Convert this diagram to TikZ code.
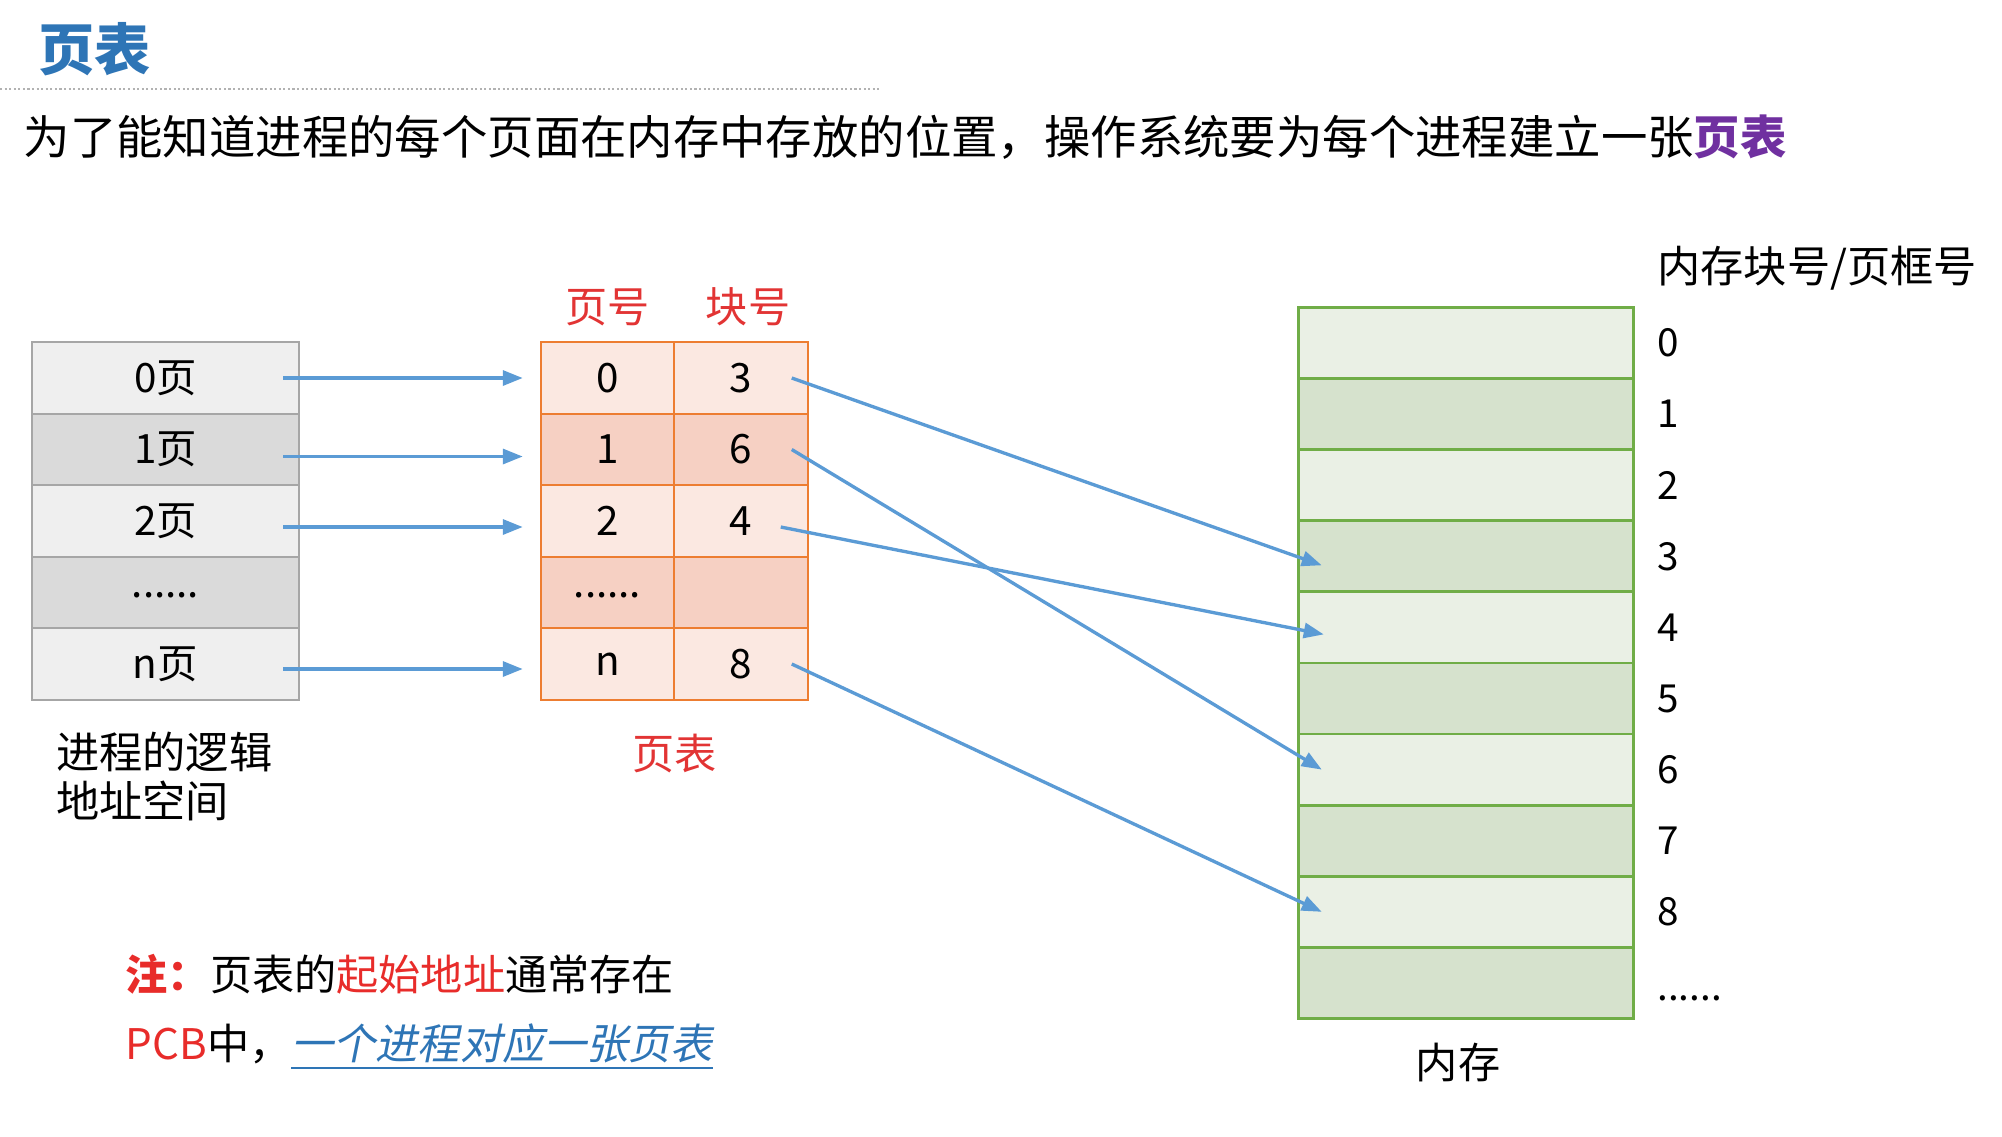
\documentclass[tikz,border=0pt]{standalone}
\usepackage{fontspec}
\setmainfont{Noto Sans CJK SC}
\newfontfamily\slantfont[FakeSlant=0.2]{Noto Sans CJK SC}
\usepackage{tikz}
\usetikzlibrary{arrows.meta, positioning}
\usepackage{xcolor}
\definecolor{titleblue}{RGB}{46,117,182}
\definecolor{keypurple}{RGB}{112,48,160}
\definecolor{hdrred}{RGB}{226,52,52}
\definecolor{notered}{RGB}{232,44,42}
\definecolor{linkblue}{RGB}{46,117,182}
\definecolor{arrblue}{RGB}{91,155,213}
\definecolor{pgline}{RGB}{166,166,166}
\definecolor{pglight}{RGB}{239,239,239}
\definecolor{pgdark}{RGB}{218,218,218}
\definecolor{tabline}{RGB}{237,125,49}
\definecolor{tablight}{RGB}{251,232,225}
\definecolor{tabdark}{RGB}{246,208,195}
\definecolor{memline}{RGB}{112,173,71}
\definecolor{memlight}{RGB}{234,240,229}
\definecolor{memdark}{RGB}{214,226,205}

\begin{document}
\begin{tikzpicture}[
    pg/.style={rectangle, draw=pgline, line width=0.7pt, minimum width=2.67cm, minimum height=0.715cm, outer sep=0pt, font=\fontsize{11.5}{13}\selectfont},
    tc/.style={rectangle, draw=tabline, line width=0.7pt, minimum width=1.335cm, minimum height=0.715cm, outer sep=0pt, font=\fontsize{11.5}{13}\selectfont},
    mem/.style={rectangle, draw=memline, line width=0.8pt, minimum width=3.345cm, minimum height=0.711cm, outer sep=0pt},
    num/.style={inner sep=1pt, font=\fontsize{11}{13}\selectfont},
    lbl/.style={inner sep=1pt, font=\fontsize{12}{14}\selectfont},
    dots/.style={text height=0.15cm, text depth=0.05cm},
    arr/.style={-{Triangle[length=2mm, width=1.5mm]}, line width=0.95pt, color=arrblue},
    node distance=0pt
]
\useasboundingbox (0,0) rectangle (20.02,-11.36);

\node[anchor=west, inner sep=0pt, text=titleblue, font=\fontsize{16}{18}\selectfont\bfseries] (title) at (0.38,-0.49) {页表};
\draw[gray!60, line width=0.6pt, dash pattern=on 0.6pt off 0.7pt] (0,-0.89) -- (8.81,-0.89);
\node[anchor=west, inner sep=0pt, font=\fontsize{13.2}{15}\selectfont] (intro) at (0.23,-1.37) {为了能知道进程的每个页面在内存中存放的位置，操作系统要为每个进程建立一张\textcolor{keypurple}{\bfseries 页表}};

\node[pg, fill=pglight] (p0) at (1.655,-3.78) {0页};
\node[pg, fill=pgdark, below=of p0] (p1) {1页};
\node[pg, fill=pglight, below=of p1] (p2) {2页};
\node[pg, dots, fill=pgdark, below=of p2] (p3) {......};
\node[pg, fill=pglight, below=of p3] (p4) {n页};
\node[lbl, align=left, below right=0.28cm and 0.2cm of p4.south west, font=\fontsize{12.3}{14}\selectfont] (lname) {进程的逻辑\\地址空间};

\node[tc, fill=tablight] (t0) at (6.075,-3.78) {0};
\node[tc, fill=tablight, right=of t0] (b0) {3};
\node[tc, fill=tabdark, below=of t0] (t1) {1};
\node[tc, fill=tabdark, right=of t1] (b1) {6};
\node[tc, fill=tablight, below=of t1] (t2) {2};
\node[tc, fill=tablight, right=of t2] (b2) {4};
\node[tc, dots, fill=tabdark, below=of t2] (t3) {......};
\node[tc, fill=tabdark, right=of t3] (b3) {};
\node[tc, fill=tablight, below=of t3] (t4) {n};
\node[tc, fill=tablight, right=of t4] (b4) {8};
\node[lbl, text=hdrred, above=0.12cm of t0] (hpage) {页号};
\node[lbl, text=hdrred, above=0.12cm of b0, xshift=0.07cm] (hblock) {块号};
\node[lbl, text=hdrred, below=0.3cm of t4.south east] (tname) {页表};

\node[mem, fill=memlight] (m0) at (14.66,-3.43) {};
\node[mem, fill=memdark, below=of m0] (m1) {};
\node[mem, fill=memlight, below=of m1] (m2) {};
\node[mem, fill=memdark, below=of m2] (m3) {};
\node[mem, fill=memlight, below=of m3] (m4) {};
\node[mem, fill=memdark, below=of m4] (m5) {};
\node[mem, fill=memlight, below=of m5] (m6) {};
\node[mem, fill=memdark, below=of m6] (m7) {};
\node[mem, fill=memlight, below=of m7] (m8) {};
\node[mem, fill=memdark, below=of m8] (m9) {};
\node[num, right=0.2cm of m0] (n0) {0};
\node[num, right=0.2cm of m1] (n1) {1};
\node[num, right=0.2cm of m2] (n2) {2};
\node[num, right=0.2cm of m3] (n3) {3};
\node[num, right=0.2cm of m4] (n4) {4};
\node[num, right=0.2cm of m5] (n5) {5};
\node[num, right=0.2cm of m6] (n6) {6};
\node[num, right=0.2cm of m7] (n7) {7};
\node[num, right=0.2cm of m8] (n8) {8};
\node[num, right=0.2cm of m9, yshift=-0.15cm] (n9) {......};
\node[lbl, above right=0.3cm and 0cm of n0.north west, font=\fontsize{12.3}{14}\selectfont] (memhead) {内存块号/页框号};
\node[lbl, below=0.2cm of m9, xshift=-0.08cm] (memname) {内存};

\draw[arr] ([xshift=-0.16cm]p0.east) -- ([xshift=-0.18cm]t0.west);
\draw[arr] ([xshift=-0.16cm, yshift=-0.07cm]p1.east) -- ([xshift=-0.18cm, yshift=-0.07cm]t1.west);
\draw[arr] ([xshift=-0.16cm, yshift=-0.06cm]p2.east) -- ([xshift=-0.18cm, yshift=-0.06cm]t2.west);
\draw[arr] ([xshift=-0.16cm, yshift=-0.05cm]p4.east) -- ([xshift=-0.18cm, yshift=-0.05cm]t4.west);

\draw[arr] ([xshift=-0.16cm]b0.east) -- ([xshift=0.23cm, yshift=-0.09cm]m3.west);
\draw[arr] ([xshift=-0.16cm]b1.east) -- ([xshift=0.23cm]m6.west);
\draw[arr] ([xshift=-0.27cm, yshift=-0.06cm]b2.east) -- ([xshift=0.25cm, yshift=-0.07cm]m4.west);
\draw[arr] ([xshift=-0.16cm]b4.east) -- ([xshift=0.23cm]m8.west);

\node[anchor=west, inner sep=0pt, font=\fontsize{12}{14}\selectfont] (note1) at (1.25,-9.74) {\textcolor{notered}{\bfseries 注：}页表的\textcolor{notered}{起始地址}通常存在};
\node[anchor=west, inner sep=0pt, font=\fontsize{12}{14}\selectfont] (note2) at (1.25,-10.47) {\textcolor{notered}{PCB}中，\textcolor{linkblue}{\underline{\slantfont 一个进程对应一张页表}}};
\end{tikzpicture}
\end{document}
